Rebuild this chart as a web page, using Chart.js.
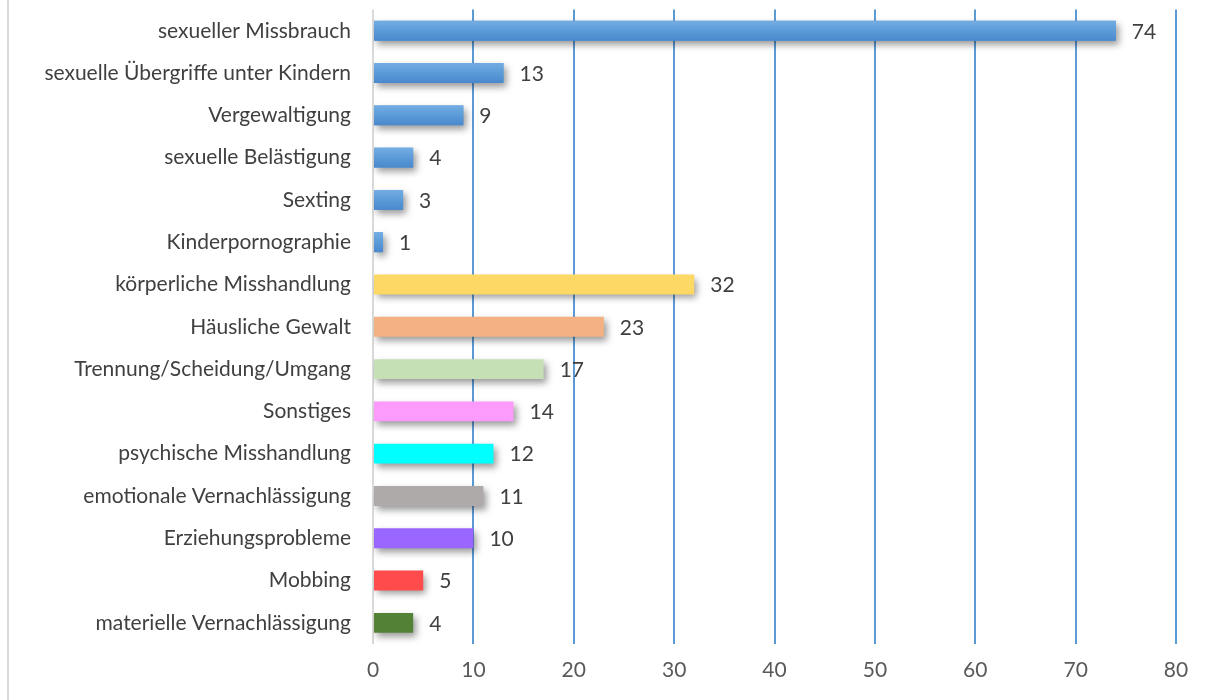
<!DOCTYPE html>
<html>
<head>
<meta charset="utf-8">
<script src="https://cdn.jsdelivr.net/npm/chart.js@4"></script>
<style>
  html, body { margin: 0; padding: 0; background: #fff; }
  #wrap { position: relative; width: 1213px; height: 700px; overflow: hidden; }
  #frame { position: absolute; left: 7px; top: 0; width: 2px; height: 700px; background: #d9d9d9; }
  canvas { display: block; margin-top: -25px; }
</style>
</head>
<body>
<div id="wrap">
  <div id="frame"></div>
  <canvas id="chart" width="1213" height="725"></canvas>
</div>
<script>
// Categories and values
const labels = [
  'sexueller Missbrauch',
  'sexuelle Übergriffe unter Kindern',
  'Vergewaltigung',
  'sexuelle Belästigung',
  'Sexting',
  'Kinderpornographie',
  'körperliche Misshandlung',
  'Häusliche Gewalt',
  'Trennung/Scheidung/Umgang',
  'Sonstiges',
  'psychische Misshandlung',
  'emotionale Vernachlässigung',
  'Erziehungsprobleme',
  'Mobbing',
  'materielle Vernachlässigung'
];
const counts = [74, 13, 9, 4, 3, 1, 32, 23, 17, 14, 12, 11, 10, 5, 4];
const barColors = [
  '#5b9bd5', '#5b9bd5', '#5b9bd5', '#5b9bd5', '#5b9bd5', '#5b9bd5',
  '#fdd865', '#f4b183', '#c5e0b4', '#fd9bfd', '#00ffff',
  '#aeaaaa', '#9966ff', '#ff4b4b', '#538135'
];
const blueRows = [0, 1, 2, 3, 4, 5];
const xTicks = [0, 10, 20, 30, 40, 50, 60, 70, 80];

const FONT = 'Lato, "Open Sans", sans-serif';

// soft drop shadow under the bars
const shadowPlugin = {
  id: 'barShadow',
  beforeDatasetsDraw(chart) {
    const c = chart.ctx;
    c.save();
    c.shadowColor = 'rgba(0,0,0,0.4)';
    c.shadowBlur = 7;
    c.shadowOffsetX = 3;
    c.shadowOffsetY = 4;
  },
  afterDatasetsDraw(chart) {
    chart.ctx.restore();
    const c = chart.ctx;
    const meta = chart.getDatasetMeta(0);
    // gradient on the blue bars
    blueRows.forEach(i => {
      const el = meta.data[i];
      const top = el.y - el.height / 2;
      const g = c.createLinearGradient(0, top, 0, top + el.height);
      g.addColorStop(0, '#74ade3');
      g.addColorStop(0.5, '#5b9bd8');
      g.addColorStop(1, '#4a88cc');
      c.fillStyle = g;
      c.fillRect(el.base, top, el.x - el.base, el.height);
    });
    // value labels
    c.save();
    c.font = '21px ' + FONT;
    c.fillStyle = '#404040';
    c.textAlign = 'left';
    c.textBaseline = 'middle';
    meta.data.forEach((el, i) => {
      c.fillText(String(counts[i]), el.x + 16, el.y + 1);
    });
    c.restore();
  }
};

new Chart(document.getElementById('chart'), {
  type: 'bar',
  data: {
    labels: labels,
    datasets: [{
      data: counts,
      backgroundColor: barColors,
      borderWidth: 0,
      barPercentage: 0.94,
      categoryPercentage: 0.5
    }]
  },
  options: {
    indexAxis: 'y',
    responsive: false,
    animation: false,
    layout: { padding: { top: 8, right: 37, bottom: 0, left: 0 } },
    plugins: {
      legend: { display: false },
      tooltip: { enabled: false }
    },
    scales: {
      x: {
        min: 0,
        max: 80,
        afterBuildTicks(axis) { axis.ticks = xTicks.map(v => ({ value: v })); },
        afterFit(axis) { axis.height = 56; },
        grid: {
          color: ctx => (ctx.tick && ctx.tick.value === 0) ? '#d9d9d9' : '#5b9bd5',
          lineWidth: 2,
          drawTicks: false
        },
        border: { display: false },
        ticks: {
          color: '#595959',
          font: { family: FONT, size: 21 },
          padding: 14
        }
      },
      y: {
        afterFit(axis) { axis.width = 373; },
        grid: { display: false, drawTicks: false },
        border: { display: false },
        ticks: {
          color: '#404040',
          font: { family: FONT, size: 21 },
          padding: 22
        }
      }
    }
  },
  plugins: [shadowPlugin]
});
</script>
</body>
</html>
